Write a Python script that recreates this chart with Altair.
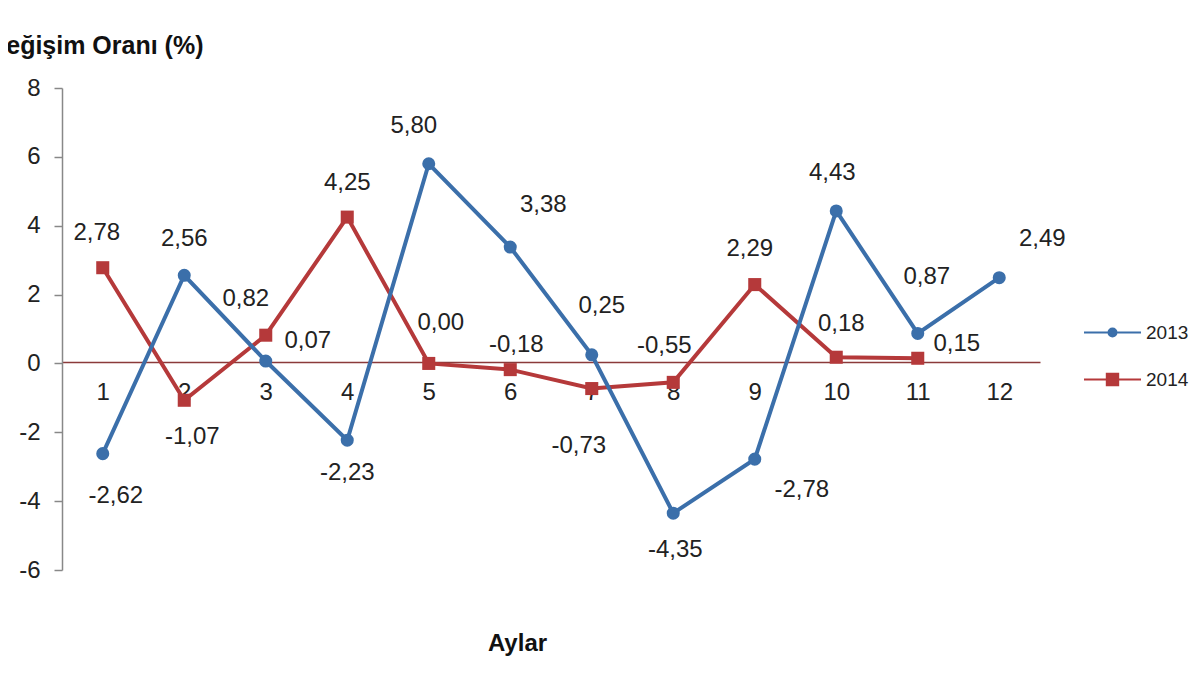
import altair as alt
import pandas as pd

# ---- data ----
months = ["1", "2", "3", "4", "5", "6", "7", "8", "9", "10", "11", "12"]
years = ["2013", "2014"]
v2013 = [-2.62, 2.56, 0.07, -2.23, 5.80, 3.38, 0.25, -4.35, -2.78, 4.43, 0.87, 2.49]
v2014 = [2.78, -1.07, 0.82, 4.25, 0.00, -0.18, -0.73, -0.55, 2.29, 0.18, 0.15]

# ---- label placement (pixel offsets, styling only) ----
dx2013 = [13, 0, 42, 0, -15, 33, 10, 2, 47, -4, 9, 43]
dy2013 = [42, -36, -20, 33, -38, -42, -49, 37, 31, -38, -56, -39]
dx2014 = [-6, 8, -20, 0, 12, 6, -13, -9, -5, 5, 39]
dy2014 = [-35, 37, -36, -34, -40, -25, 57, -36, -36, -33, -14]

BLUE = "#3B6FAA"
RED = "#B5393A"
FONT = "Liberation Sans"

rows = []
for vals, yr, dxs, dys in [(v2013, "2013", dx2013, dy2013), (v2014, "2014", dx2014, dy2014)]:
    for i, v in enumerate(vals):
        rows.append({"month": months[i], "year": yr, "value": v,
                     "label": f"{v:.2f}".replace(".", ","),
                     "dx": dxs[i], "dy": dys[i]})
df = pd.DataFrame(rows)

# legend symbols: a line with a marker in the middle
P2013 = "M-1,0L1,0M0.14,0A0.14,0.14,0,1,1,-0.14,0A0.14,0.14,0,1,1,0.14,0Z"
P2014 = "M-1,0L1,0M-0.2,-0.2L0.2,-0.2L0.2,0.2L-0.2,0.2Z"

legend = alt.Legend(
    title=None, orient="none", legendX=1021, legendY=215, padding=0,
    labelFontSize=19, labelFont=FONT, labelColor="#222", labelOffset=4,
    symbolSize=3249, symbolStrokeWidth=2, rowPadding=7, symbolOpacity=1,
)

cscale = alt.Scale(domain=years, range=[BLUE, RED])

x = alt.X("month:O", sort=months,
          scale=alt.Scale(paddingInner=0, paddingOuter=0),
          axis=alt.Axis(orient="bottom", offset=-208, domainColor="#8B3A3A", domainWidth=1.5,
                        ticks=False, labelAngle=0, labelFontSize=24, labelFont=FONT,
                        labelColor="#222", labelPadding=18, title="Aylar",
                        titleX=455, titleY=281, titleFontSize=24, titleFont=FONT,
                        titleFontWeight="bold", titleColor="#111", titleBaseline="middle"))
y = alt.Y("value:Q", scale=alt.Scale(domain=[-6, 8], nice=False, zero=False),
          axis=alt.Axis(values=[-6, -4, -2, 0, 2, 4, 6, 8], grid=False,
                        labelExpr="'' + datum.value",
                        labelFontSize=24, labelFont=FONT, labelColor="#222",
                        labelPadding=14, tickColor="#888", tickSize=8, tickWidth=1.5,
                        domainColor="#888", domainWidth=1.5,
                        title="Değişim Oranı (%)", titleAngle=0, titleAlign="right",
                        titleX=141, titleY=-43, titleBaseline="middle",
                        titleFontSize=25, titleFont=FONT, titleFontWeight="bold",
                        titleColor="#111"))

base = alt.Chart(df)

leg = base.transform_filter("false").mark_point(size=3249, strokeWidth=2, opacity=1).encode(
    x=x, y=y,
    color=alt.Color("year:N", scale=cscale, legend=legend),
    fill=alt.Fill("year:N", scale=alt.Scale(domain=years, range=[BLUE, RED]), legend=legend),
    shape=alt.Shape("year:N", scale=alt.Scale(domain=years, range=[P2013, P2014]), legend=legend))

line14 = base.transform_filter("datum.year == '2014'").mark_line(strokeWidth=4).encode(
    x=x, y=y, color=alt.Color("year:N", scale=cscale, legend=legend))
pts14 = base.transform_filter("datum.year == '2014'").mark_point(
    shape="square", filled=True, opacity=1, size=170, color=RED).encode(x=x, y=y)
line13 = base.transform_filter("datum.year == '2013'").mark_line(strokeWidth=4).encode(
    x=x, y=y, color=alt.Color("year:N", scale=cscale, legend=legend))
pts13 = base.transform_filter("datum.year == '2013'").mark_point(
    shape="circle", filled=True, opacity=1, size=170, color=BLUE).encode(x=x, y=y)

# one text layer per distinct label offset
text_layers = []
offsets = sorted(set(zip(df["dx"], df["dy"])))
for ddx, ddy in offsets:
    text_layers.append(
        base.transform_filter(f"datum.dx == {ddx} && datum.dy == {ddy}")
        .mark_text(fontSize=24, font=FONT, color="#222", baseline="middle",
                   align="center", dx=int(ddx), dy=int(ddy))
        .encode(x=x, y=y, text="label:N")
    )

chart = alt.layer(leg, line14, pts14, line13, pts13, *text_layers).properties(
    width=978, height=482,
    background="white",
    autosize=alt.AutoSizeParams(type="none"),
    padding={"left": 54, "top": 80, "right": 152, "bottom": 97},
).configure_view(stroke=None)

chart.save("out.html", embed_options={"renderer": "svg", "actions": False})
